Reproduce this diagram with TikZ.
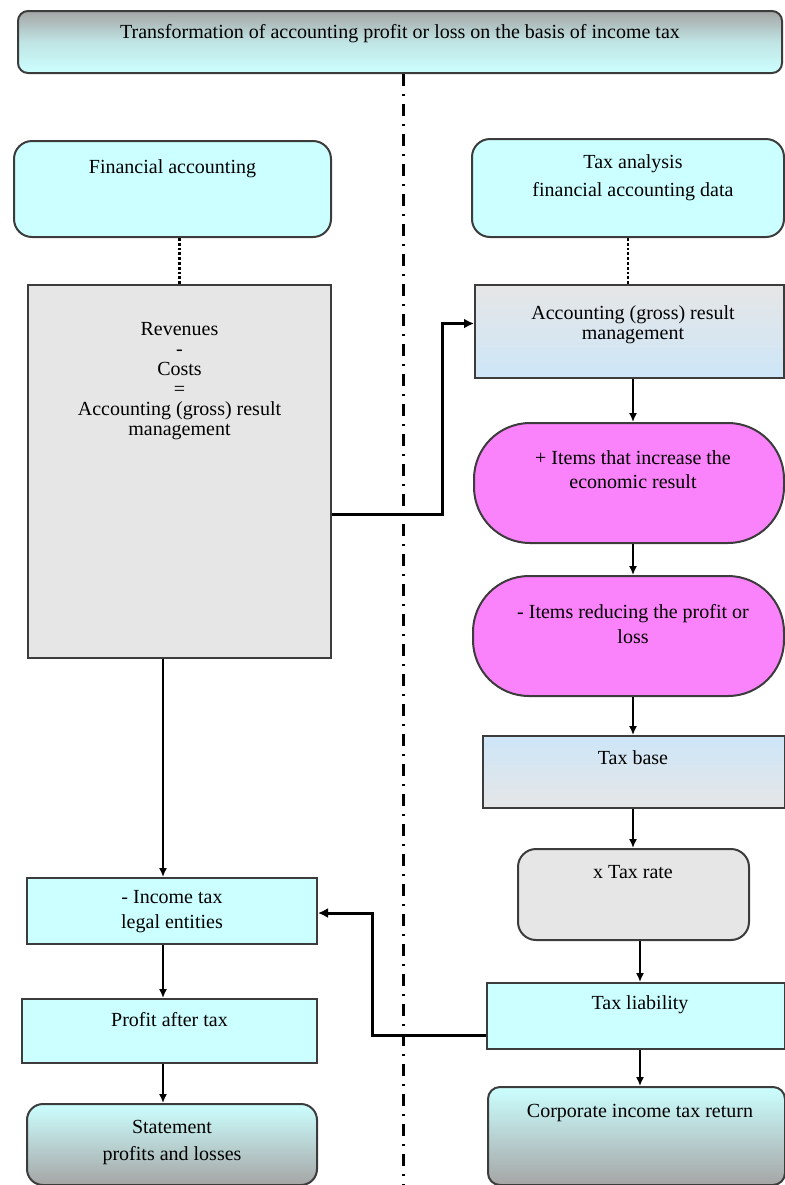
\documentclass[tikz,border=0pt]{standalone}
\usepackage{fontspec}
\setmainfont{Liberation Serif}
\usetikzlibrary{arrows.meta,calc}
\definecolor{boxcyan}{RGB}{204,255,255}
\definecolor{boxgray}{RGB}{230,230,230}
\definecolor{boxpink}{RGB}{250,130,250}
\definecolor{boxblue}{RGB}{205,230,248}
\definecolor{boxline}{RGB}{60,60,60}
\definecolor{shadegray}{RGB}{165,165,165}

\begin{document}
\begin{tikzpicture}[x=0.5pt,y=-0.5pt,
    box/.style={draw=boxline,line width=1pt,inner sep=0pt,anchor=north west},
    txt/.style={inner sep=0pt,anchor=north,align=center,font=\fontsize{10}{12.5}\selectfont},
    arr/.style={-{Latex[length=4.5pt,width=4pt]},line width=0.8pt},
    bigarr/.style={-{Latex[length=5pt,width=5pt]},line width=1.5pt},
    dots/.style={densely dotted,line width=1.4pt},
    divider/.style={line width=1.5pt,dash pattern=on 6pt off 4pt on 1pt off 4pt}]
              \useasboundingbox (0,0) rectangle (784,1185);
              \coordinate (col) at (633,0);
              \coordinate (rcol) at (640,0);
              \coordinate (lcol) at (163,0);
              \coordinate (divend) at (403,1185);
              %\draw[help lines] (0,0) grid[step=100] (784,1185);
              \node[box,rounded corners=5pt,minimum width=382pt,minimum height=31pt,
                top color=shadegray,bottom color=boxcyan,middle color=boxcyan!70!shadegray] (title) at (17,10) {};
              \node[txt] (titleT) at ([yshift=-7pt]title.north) {Transformation of accounting profit or loss on the basis of income tax};
              \draw[divider] (title.south -| divend) -- (divend);
              % left column
              \node[box,rounded corners=9pt,minimum width=158.5pt,minimum height=48pt,fill=boxcyan] (fa) at (13,140) {};
              \node[txt] (faT) at ([yshift=-9.5pt]fa.north) {Financial accounting};
              \node[box,minimum width=151.5pt,minimum height=186.5pt,fill=boxgray] (res) at (27,284) {};
              \node[txt,font=\fontsize{10}{10}\selectfont] (resT) at ([yshift=-19pt]res.north) {Revenues\\-\\Costs\\=\\Accounting (gross) result\\management};
              \node[box,minimum width=145pt,minimum height=33pt,fill=boxcyan] (itax) at (26,877) {};
              \node[txt] (itaxT) at ([yshift=-6.5pt]itax.north) {- Income tax\\legal entities};
              \node[box,minimum width=147.5pt,minimum height=32pt,fill=boxcyan] (pat) at (21,998) {};
              \node[txt] (patT) at ([yshift=-7pt]pat.north) {Profit after tax};
              \node[box,rounded corners=8pt,minimum width=145pt,minimum height=40.5pt,
                top color=boxcyan,bottom color=shadegray] (stmt) at (26,1103) {};
              \node[txt,font=\fontsize{10}{13.5}\selectfont] (stmtT) at ([yshift=-8.5pt]stmt.north) {Statement\\profits and losses};
              % right column
              \node[box,rounded corners=9pt,minimum width=156pt,minimum height=49pt,fill=boxcyan] (ta) at (471,138) {};
              \node[txt,font=\fontsize{10}{14}\selectfont] (taT) at ([yshift=-8pt]ta.north -| col) {Tax analysis\\financial accounting data};
              \node[box,minimum width=154.5pt,minimum height=46.5pt,top color=boxgray,bottom color=boxblue] (acc) at (474,284) {};
              \node[txt,font=\fontsize{10}{10}\selectfont] (accT) at ([yshift=-10.5pt]acc.north -| col) {Accounting (gross) result\\management};
              \node[box,rounded corners=28pt,minimum width=155pt,minimum height=60pt,fill=boxpink] (inc) at (473,422) {};
              \node[txt,font=\fontsize{10}{12}\selectfont] (incT) at ([yshift=-14pt]inc.north -| col) {+ Items that increase the\\economic result};
              \node[box,rounded corners=28pt,minimum width=155.5pt,minimum height=60pt,fill=boxpink] (red) at (472,575) {};
              \node[txt] (redT) at ([yshift=-14.5pt]red.north -| col) {- Items reducing the profit or\\loss};
              \node[box,minimum width=151pt,minimum height=36pt,top color=boxblue,bottom color=boxgray] (base) at (482,735) {};
              \node[txt] (baseT) at ([yshift=-7.5pt]base.north -| col) {Tax base};
              \node[box,rounded corners=9pt,minimum width=115.5pt,minimum height=45.5pt,fill=boxgray] (rate) at (517,848) {};
              \node[txt] (rateT) at ([yshift=-8.5pt]rate.north -| col) {x Tax rate};
              \node[box,minimum width=149pt,minimum height=33pt,fill=boxcyan] (liab) at (486,982) {};
              \node[txt] (liabT) at ([yshift=-6.5pt]liab.north -| rcol) {Tax liability};
              \node[box,rounded corners=6pt,minimum width=148.5pt,minimum height=49pt,
                top color=boxcyan,bottom color=shadegray] (corp) at (487,1086) {};
              \node[txt] (corpT) at ([yshift=-9pt]corp.north -| rcol) {Corporate income tax return};
              % connectors
              \draw[dots] (fa.south -| res.north) -- (res.north);
              \draw[dots] (ta.south) -- (ta.south |- acc.north);
              \draw[bigarr] ([yshift=-21.5pt]res.east) -| ([xshift=-16pt,yshift=4pt]acc.west) -- ([yshift=4pt]acc.west);
              \draw[arr] (acc.south -| col) -- (inc.north -| col);
              \draw[arr] (inc.south -| col) -- (red.north -| col);
              \draw[arr] (red.south -| col) -- (base.north -| col);
              \draw[arr] (base.south -| col) -- (rate.north -| col);
              \draw[arr] (rate.south -| rcol) -- (liab.north -| rcol);
              \draw[arr] (liab.south -| rcol) -- (corp.north -| rcol);
              \draw[bigarr] ([yshift=-9.5pt]liab.west) -| ([xshift=27pt,yshift=-1pt]itax.east) -- ([yshift=-1pt]itax.east);
              \draw[arr] (res.south -| lcol) -- (itax.north -| lcol);
              \draw[arr] (itax.south -| lcol) -- (pat.north -| lcol);
              \draw[arr] (pat.south -| lcol) -- (stmt.north -| lcol);
            \end{tikzpicture}
\end{document}
